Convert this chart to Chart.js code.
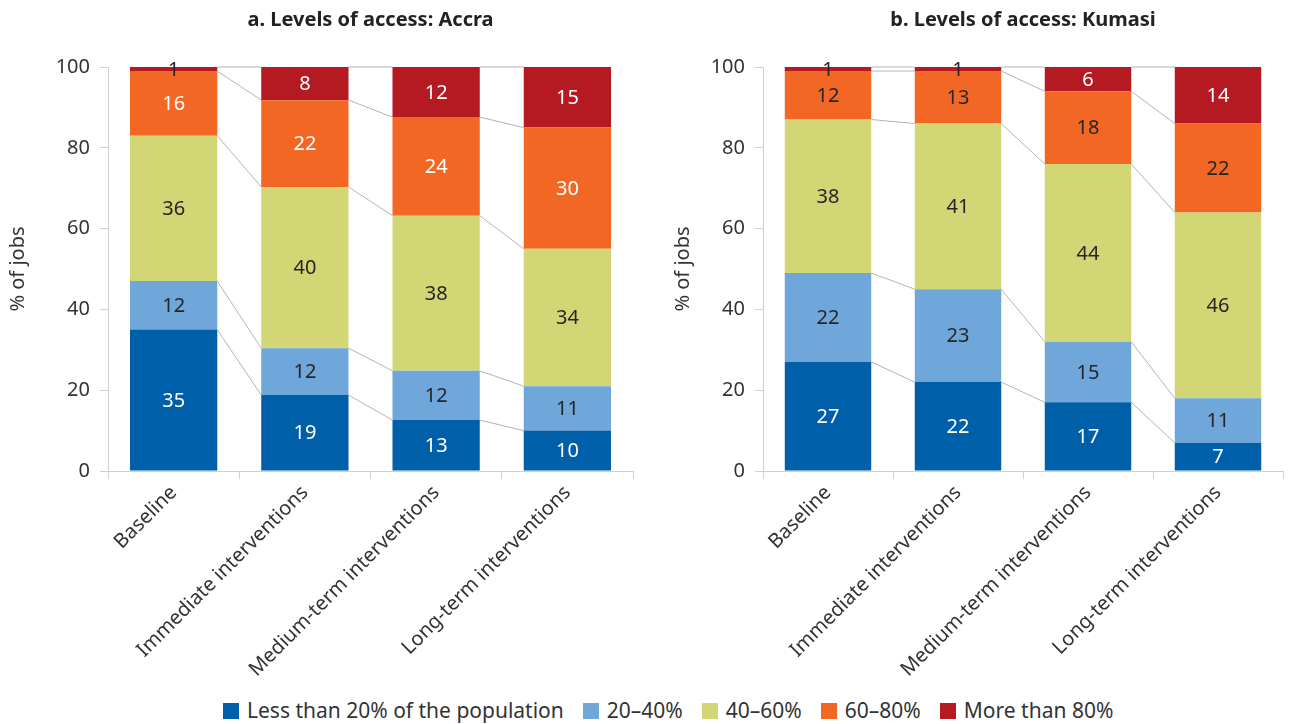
<!DOCTYPE html>
<html>
<head>
<meta charset="utf-8">
<script src="https://cdn.jsdelivr.net/npm/chart.js@4/dist/chart.umd.min.js"></script>
<style>
  html, body { margin:0; padding:0; background:#fff; }
  body { width:1290px; height:724px; position:relative; overflow:hidden; font-family:"Noto Sans", sans-serif; }
  .wrap { position:absolute; top:0; height:690px; }
  .title { position:absolute; top:5px; font-weight:bold; font-size:20px; line-height:28px; color:#222; text-align:center; }
  #legend { position:absolute; top:696px; left:223px; display:flex; align-items:center; font-size:21px; line-height:29px; color:#333; white-space:nowrap; }
  #legend .item { display:flex; align-items:center; margin-right:19px; }
  #legend .box { width:16px; height:16px; margin-right:8px; }
</style>
</head>
<body>
<div class="wrap" style="left:0;width:645px;"><canvas id="c1"></canvas></div>
<div class="wrap" style="left:665px;width:625px;"><canvas id="c2"></canvas></div>
<div class="title" style="left:108px;width:525px;">a. Levels of access: Accra</div>
<div class="title" style="left:763px;width:520px;">b. Levels of access: Kumasi</div>
<div id="legend"></div>
<script>
// ---- data (percent of jobs; bar heights, labels are their rounded values) ----
const categories = ['Baseline', 'Immediate interventions', 'Medium-term interventions', 'Long-term interventions'];
const seriesNames = ['Less than 20% of the population', '20\u201340%', '40\u201360%', '60\u201380%', 'More than 80%'];
const yTicks = [0, 20, 40, 60, 80, 100];

const accraLt20   = [35, 18.8, 12.6, 10];
const accra20to40 = [12, 11.6, 12.2, 11];
const accra40to60 = [36, 39.9, 38.4, 34];
const accra60to80 = [16, 21.5, 24.4, 30];
const accraGt80   = [1, 8.2, 12.4, 15];

const kumasiLt20   = [27, 22, 17, 7];
const kumasi20to40 = [22, 23, 15, 11];
const kumasi40to60 = [38, 41, 44, 46];
const kumasi60to80 = [12, 13, 18, 22];
const kumasiGt80   = [1, 1, 6, 14];

// ---- styles ----
const colors = ['#005FA9', '#6FA7DA', '#D2D674', '#F26723', '#B51A22'];
const FONT = '"Noto Sans", sans-serif';
const DARK = '#262626';
const accraLabelColors  = ['#fff', DARK, DARK, '#fff', '#fff'];
const kumasiLabelColors = ['#fff', DARK, DARK, DARK, '#fff'];

// legend
const legendEl = document.getElementById('legend');
seriesNames.forEach((n, i) => {
  const it = document.createElement('div'); it.className = 'item';
  const b = document.createElement('div'); b.className = 'box'; b.style.background = colors[i];
  const t = document.createElement('span'); t.textContent = n;
  it.appendChild(b); it.appendChild(t); legendEl.appendChild(it);
});

const connectorPlugin = {
  id: 'connectors',
  beforeDatasetsDraw(chart) {
    const ctx = chart.ctx;
    const y = chart.scales.y;
    const nCat = chart.data.labels.length;
    const nDs = chart.data.datasets.length;
    ctx.save();
    ctx.strokeStyle = '#b4b4b4';
    ctx.lineWidth = 1;
    for (let i = 0; i < nCat - 1; i++) {
      const a = chart.getDatasetMeta(0).data[i];
      const b = chart.getDatasetMeta(0).data[i + 1];
      let cumA = 0, cumB = 0;
      for (let d = 0; d < nDs; d++) {
        cumA += chart.data.datasets[d].data[i];
        cumB += chart.data.datasets[d].data[i + 1];
        const ya = y.getPixelForValue(Math.min(cumA, 100));
        const yb = y.getPixelForValue(Math.min(cumB, 100));
        ctx.beginPath();
        ctx.moveTo(a.x + a.width / 2, ya);
        ctx.lineTo(b.x - b.width / 2, yb);
        ctx.stroke();
      }
    }
    ctx.restore();
  }
};

const labelPlugin = {
  id: 'valueLabels',
  afterDatasetsDraw(chart, args, opts) {
    const ctx = chart.ctx;
    ctx.save();
    ctx.font = '20px ' + FONT;
    ctx.textAlign = 'center';
    ctx.textBaseline = 'middle';
    chart.data.datasets.forEach((ds, d) => {
      chart.getDatasetMeta(d).data.forEach((bar, i) => {
        const v = ds.data[i];
        const top = Math.max(bar.y, chart.chartArea.top);
        const cy = (top + bar.base) / 2;
        ctx.fillStyle = v < 3 ? DARK : opts.colors[d];
        ctx.fillText(String(Math.round(v)), bar.x, cy + 1);
      });
    });
    ctx.restore();
  }
};

function makeChart(id, series, labelColors, yWidth, padRight) {
  const datasets = series.map((arr, i) => ({
    label: seriesNames[i],
    data: arr,
    backgroundColor: colors[i],
    borderWidth: 0,
    categoryPercentage: 1,
    barPercentage: 0.665,
    clip: 0
  }));
  return new Chart(document.getElementById(id), {
    type: 'bar',
    data: { labels: categories, datasets },
    plugins: [connectorPlugin, labelPlugin],
    options: {
      responsive: true,
      maintainAspectRatio: false,
      animation: false,
      layout: { padding: { top: 67, right: padRight, left: 0, bottom: 0 } },
      plugins: {
        legend: { display: false },
        tooltip: { enabled: false },
        title: { display: false },
        valueLabels: { colors: labelColors }
      },
      scales: {
        x: {
          stacked: true,
          grid: { offset: true, drawOnChartArea: false, drawTicks: true, tickLength: 8, color: '#d0d0d0' },
          border: { display: true, color: '#d0d0d0', width: 1 },
          ticks: { font: { family: FONT, size: 20 }, color: '#333', maxRotation: 45, minRotation: 45, padding: 2, autoSkip: false },
          afterFit(s) { s.height = 690 - 471; }
        },
        y: {
          stacked: true,
          min: 0, max: 100,
          afterBuildTicks(s) { s.ticks = yTicks.map(v => ({ value: v })); },
          grid: { drawOnChartArea: false, drawTicks: true, tickLength: 8, color: '#d0d0d0' },
          border: { display: true, color: '#d0d0d0', width: 1 },
          ticks: { font: { family: FONT, size: 20 }, color: '#333', padding: 10 },
          title: { display: true, text: '% of jobs', font: { family: FONT, size: 20 }, color: '#333', padding: { top: 6, bottom: 0 } },
          afterFit(s) { s.width = yWidth; }
        }
      }
    }
  });
}

makeChart('c1', [accraLt20, accra20to40, accra40to60, accra60to80, accraGt80], accraLabelColors, 108, 12);
makeChart('c2', [kumasiLt20, kumasi20to40, kumasi40to60, kumasi60to80, kumasiGt80], kumasiLabelColors, 98, 7);
</script>
</body>
</html>
